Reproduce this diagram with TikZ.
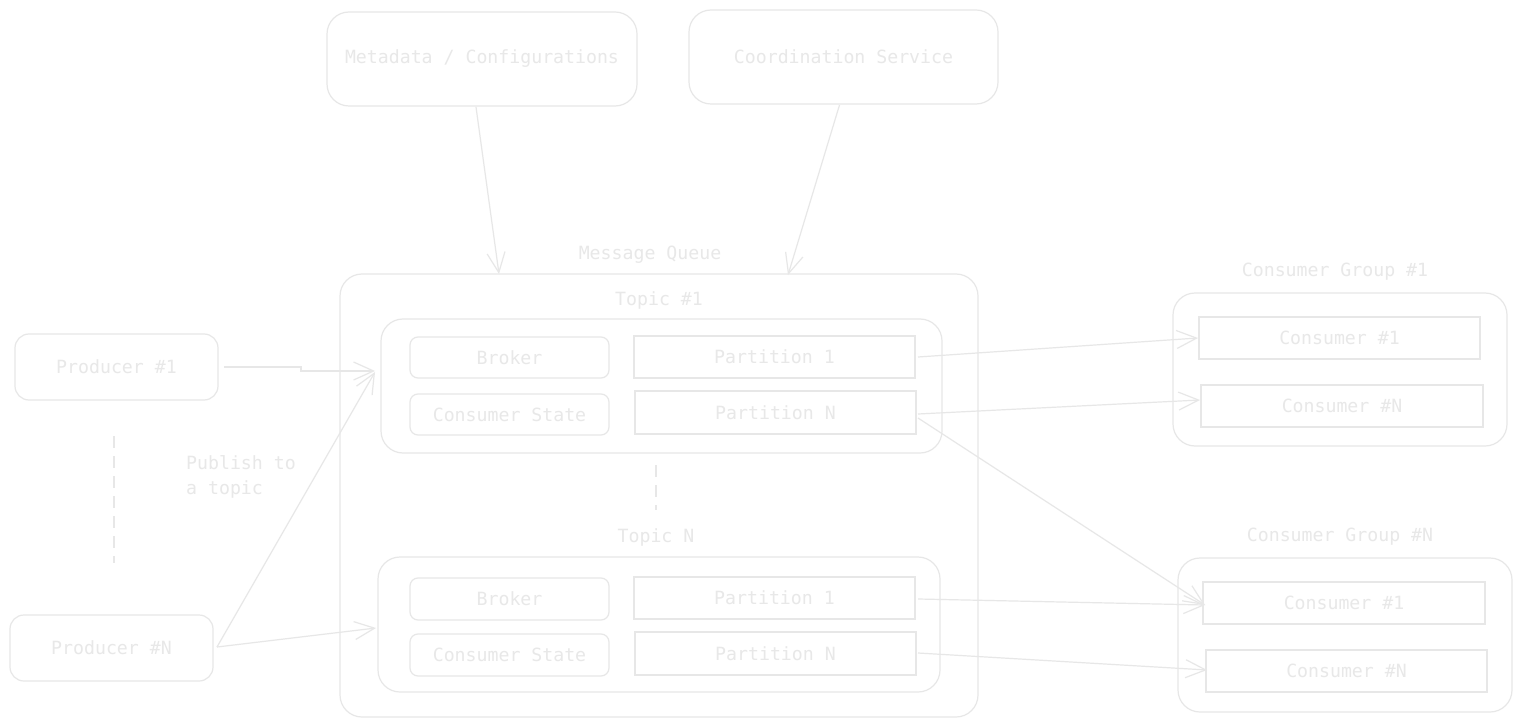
\documentclass[tikz,border=0pt]{standalone}
\usepackage{fontspec}
\setmonofont{DejaVu Sans Mono}
\usetikzlibrary{arrows.meta}
\definecolor{ln}{HTML}{E7E7E7}
\definecolor{tx}{HTML}{E8E8E8}
\tikzset{
  base/.style={draw=ln, line width=1.2pt, inner sep=0pt, outer sep=0pt, text=tx, font=\ttfamily\fontsize{18.2}{22}\selectfont, align=center},
  bigbox/.style={base, rounded corners=22pt},
  smallbox/.style={base, rounded corners=8pt},
  sharpbox/.style={base},
  lbl/.style={text=tx, font=\ttfamily\fontsize{18.2}{25}\selectfont, inner sep=0pt},
  arr/.style={draw=ln, line width=1.2pt, -{Straight Barb[length=20pt,width=18pt,line width=1.2pt]}},
  sep/.style={draw=ln, line width=1.3pt, dash pattern=on 12pt off 8pt}
}
\begin{document}
\begin{tikzpicture}[x=1pt,y=-1pt]
\useasboundingbox[fill=white] (0,0) rectangle (1522,727);
% top services
\node[bigbox, minimum width=310pt, minimum height=94pt] (meta) at (482,59) {Metadata / Configurations};
\node[bigbox, minimum width=309pt, minimum height=94pt] (coord) at (843.5,57) {Coordination Service};
% message queue
\node[lbl] (mqlbl) at (650,255) {Message Queue};
\node[bigbox, minimum width=638pt, minimum height=443pt] (mq) at (659,495.5) {};
% topic 1
\node[lbl] (t1lbl) at (659,300) {Topic \#1};
\node[bigbox, minimum width=561pt, minimum height=134pt] (t1) at (661.5,386) {};
\node[smallbox, minimum width=199pt, minimum height=41pt] (b1) at (509.5,357.5) {Broker};
\node[smallbox, minimum width=199pt, minimum height=41pt] (cs1) at (509.5,414.5) {Consumer State};
\node[sharpbox, minimum width=281pt, minimum height=42pt] (p11) at (774.5,357) {Partition 1};
\node[sharpbox, minimum width=281pt, minimum height=43pt] (p1n) at (775.5,412.5) {Partition N};
% separator between topics
\coordinate (sa1) at (656,465);
\coordinate (sa2) at (656,510);
\draw[sep] (sa1) -- (sa2);
% topic N
\node[lbl] (tnlbl) at (656,537) {Topic N};
\node[bigbox, minimum width=562pt, minimum height=135pt] (tn) at (659,624.5) {};
\node[smallbox, minimum width=199pt, minimum height=42pt] (b2) at (509.5,599) {Broker};
\node[smallbox, minimum width=199pt, minimum height=42pt] (cs2) at (509.5,655) {Consumer State};
\node[sharpbox, minimum width=281pt, minimum height=42pt] (pn1) at (774.5,598) {Partition 1};
\node[sharpbox, minimum width=281pt, minimum height=43pt] (pnn) at (775.5,653.5) {Partition N};
% producers
\node[smallbox, rounded corners=14pt, minimum width=203pt, minimum height=66pt] (prod1) at (116.5,367) {Producer \#1};
\node[smallbox, rounded corners=14pt, minimum width=203pt, minimum height=66pt] (prodn) at (111.5,648) {Producer \#N};
\coordinate (sb1) at (114,436);
\coordinate (sb2) at (114,563);
\draw[sep] (sb1) -- (sb2);
\node[lbl, anchor=north west, align=left] (pub) at (186,455) {Publish to\\a topic};
% consumer groups
\node[lbl] (cg1lbl) at (1335,272) {Consumer Group \#1};
\node[bigbox, minimum width=334pt, minimum height=153pt] (cg1) at (1340,369.5) {};
\node[sharpbox, minimum width=281pt, minimum height=42pt] (c11) at (1339.5,338) {Consumer \#1};
\node[sharpbox, minimum width=282pt, minimum height=42pt] (c1n) at (1342,406) {Consumer \#N};
\node[lbl] (cgnlbl) at (1340,537) {Consumer Group \#N};
\node[bigbox, minimum width=334pt, minimum height=154pt] (cgn) at (1345,635) {};
\node[sharpbox, minimum width=282pt, minimum height=42pt] (cn1) at (1344,603) {Consumer \#1};
\node[sharpbox, minimum width=281pt, minimum height=42pt] (cnn) at (1346.5,671) {Consumer \#N};
% connectors
\draw[arr] ([xshift=-6pt,yshift=-1pt]meta.south) -- ([xshift=-160pt]mq.north);
\draw[arr] ([xshift=-4pt,yshift=-1pt]coord.south) -- ([xshift=129pt,yshift=-1pt]mq.north);
\draw[arr] ([xshift=6pt]prod1.east) -- ++(77,0) -- ++(0,4) -- ([xshift=-6pt,yshift=15pt]t1.west);
\draw[arr] ([xshift=4pt,yshift=1pt]prodn.east) -- ([xshift=-6pt,yshift=14pt]t1.west);
\draw[arr] ([xshift=4pt,yshift=1pt]prodn.east) -- ([xshift=-2pt,yshift=-3.5pt]tn.west);
\draw[arr] ([xshift=3pt]p11.east) -- ([xshift=-1pt]c11.west);
\draw[arr] ([xshift=2pt,yshift=-1.5pt]p1n.east) -- ([xshift=-1pt,yshift=6pt]c1n.west);
\draw[arr] ([xshift=2pt,yshift=-5.5pt]p1n.east) -- ([xshift=2pt,yshift=-2pt]cn1.west);
\draw[arr] ([xshift=3pt,yshift=-1pt]pn1.east) -- ([xshift=2pt,yshift=-2pt]cn1.west);
\draw[arr] ([xshift=2pt,yshift=0.5pt]pnn.east) -- ([xshift=1pt,yshift=1pt]cnn.west);
\end{tikzpicture}
\end{document}
